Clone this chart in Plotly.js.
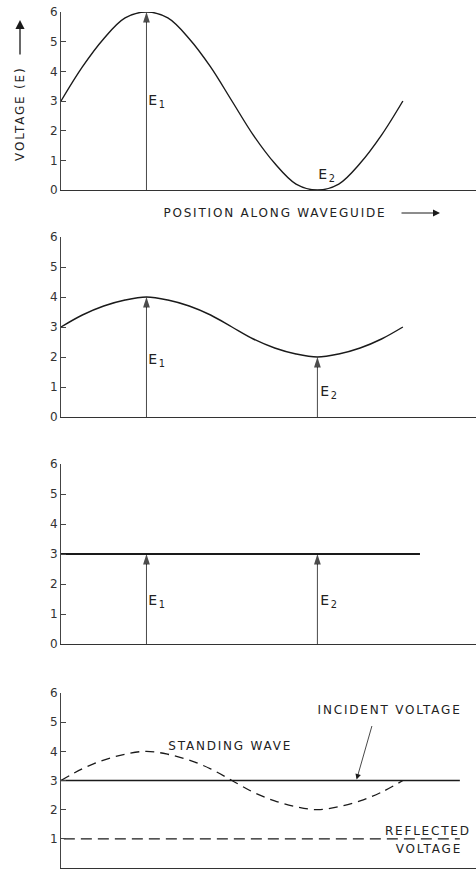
<!DOCTYPE html>
<html><head><meta charset="utf-8">
<script src="https://cdn.plot.ly/plotly-3.0.1.min.js"></script>
<style>html,body{margin:0;padding:0;background:#fff}
#chart .annotation-text{letter-spacing:1.8px}</style>
</head><body><div id="chart" style="width:476px;height:874px"></div>
<script>
// Position along waveguide (electrical degrees)
const pos = [0,22.5,45,67.5,90,112.5,135,157.5,180,202.5,225,247.5,270,292.5,315,337.5,360];
// Panel 1: total reflection standing wave
const wave1 = [3,4.15,5.1,5.8,6,5.8,5.1,4.15,3,1.85,0.9,0.2,0,0.2,0.9,1.85,3];
// Panel 2: partial reflection
const wave2 = [3,3.4,3.7,3.9,4,3.9,3.7,3.4,3,2.6,2.3,2.1,2,2.1,2.3,2.6,3];
// Panel 3: matched line (flat)
const flatX = [0,378];
const flat3 = [3,3];
// Panel 4: incident, standing, reflected
const incidentX = [0,420];
const incident = [3,3];
const standing = [3,3.4,3.7,3.9,4,3.9,3.7,3.4,3,2.6,2.3,2.1,2,2.1,2.3,2.6,3];
const reflectedX = [3,420];
const reflected = [1,1];
const yTicks = [0,1,2,3,4,5,6];
const yTickText = ['0','1','2','3','4','5','6'];
// Arrow targets E1 / E2 per panel
const e1X = 90, e2X = 270;
const e1Vals = [6,4,3];
const e2Vals = [0,2,3];

const FONT = 'DejaVu Sans';
const ink = '#1a1a1a';

const traces = [
  {x:pos, y:wave1, xaxis:'x', yaxis:'y', mode:'lines', line:{color:ink,width:1.4,shape:'spline'}},
  {x:pos, y:wave2, xaxis:'x2', yaxis:'y2', mode:'lines', line:{color:ink,width:1.4,shape:'spline'}},
  {x:flatX, y:flat3, xaxis:'x3', yaxis:'y3', mode:'lines', line:{color:ink,width:2}},
  {x:incidentX, y:incident, xaxis:'x4', yaxis:'y4', mode:'lines', line:{color:ink,width:1.5}},
  {x:pos, y:standing, xaxis:'x4', yaxis:'y4', mode:'lines', line:{color:ink,width:1.3,shape:'spline',dash:'9px,6px'}},
  {x:reflectedX, y:reflected, xaxis:'x4', yaxis:'y4', mode:'lines', line:{color:ink,width:1.3,dash:'11px,6px'}}
];
// E1 / E2 vertical arrows as traces (line + arrow marker at tip)
const axs = [['x','y'],['x2','y2'],['x3','y3']];
function arrowTrace(xr, yr, x, yTop){
  return {x:[x,x], y:[0,yTop], xaxis:xr, yaxis:yr, mode:'lines+markers', cliponaxis:false,
    line:{color:ink,width:0.8}, marker:{symbol:'arrow', size:[0,11], color:'#000', line:{width:0}}};
}
for (let k=0;k<3;k++){
  const [xr,yr] = axs[k];
  traces.push(arrowTrace(xr,yr,e1X,e1Vals[k]));
  if (e2Vals[k]>0) traces.push(arrowTrace(xr,yr,e2X,e2Vals[k]));
}

const H = 874;
const domains = [
  [1-190/H, 1-12/H],
  [1-417/H, 1-237/H],
  [1-644/H, 1-464/H],
  [1-868/H, 1-693/H]
];

const layout = {
  width:476, height:874,
  margin:{l:61,r:0,t:0,b:0},
  paper_bgcolor:'#fff', plot_bgcolor:'#fff',
  showlegend:false,
  font:{family:FONT,color:'#222',size:12},
  annotations:[]
};
for (let i=1;i<=4;i++){
  const s = i===1?'':String(i);
  layout['xaxis'+s] = {domain:[0,1], range:[0,437], anchor:'y'+s, showline:true, linecolor:'#333', linewidth:1,
    showticklabels:false, ticks:'', showgrid:false, zeroline:false, fixedrange:true};
  layout['yaxis'+s] = {domain:domains[i-1], range:[0,6], anchor:'x'+s, showline:true, linecolor:'#444', linewidth:1,
    ticks:'inside', ticklen:5, tickcolor:'#444', tickvals:yTicks, ticktext:yTickText,
    tickfont:{family:FONT,size:12,color:'#333'}, showgrid:false, zeroline:false, fixedrange:true};
}

function label(xr, yr, x, y, t){
  return {xref:xr, yref:yr, x:x, y:y, text:t, showarrow:false, xanchor:'left', yanchor:'middle',
    font:{family:FONT,size:14,color:'#222'}};
}
const A = layout.annotations;
const e1LabelY = [3.0,1.9,1.45];
const e2Pos = [[271,0.5],[273,0.85],[273,1.45]];
for (let k=0;k<3;k++){
  const [xr,yr] = axs[k];
  A.push(label(xr,yr,e1X+2,e1LabelY[k],'E<sub>1</sub>'));
  A.push(label(xr,yr,e2Pos[k][0],e2Pos[k][1],'E<sub>2</sub>'));
}
function note(xr,yr,x,y,t,extra){
  return Object.assign({xref:xr,yref:yr,x:x,y:y,text:t,showarrow:false,xanchor:'center',yanchor:'middle',
    font:{family:FONT,size:12,color:'#222'}}, extra||{});
}
// Y title with up arrow
A.push(note('paper','paper',-41/415,1-114/H,'VOLTAGE (E)',{textangle:-90}));
A.push({xref:'paper',yref:'paper',x:-41/415,y:1-20/H,ax:0,ay:36,text:'',showarrow:true,arrowhead:2,arrowsize:1.4,arrowwidth:1.3,arrowcolor:ink});
// Position label
A.push(note('paper','paper',(275-61)/415,1-213/H,'POSITION ALONG WAVEGUIDE'));
A.push({xref:'paper',yref:'paper',x:(440-61)/415,y:1-213/H,ax:-40,ay:0,text:'',showarrow:true,arrowhead:2,arrowsize:1.4,arrowwidth:1,arrowcolor:ink});
// Panel 4 labels
A.push(note('x4','y4',178,4.17,'STANDING WAVE'));
A.push(note('x4','y4',346,5.42,'INCIDENT VOLTAGE'));
A.push({xref:'x4',yref:'y4',x:311,y:3,ax:16,ay:-56,text:'',showarrow:true,arrowhead:2,arrowsize:1.4,arrowwidth:0.8,arrowcolor:ink,standoff:1});
A.push(note('x4','y4',386,1.27,'REFLECTED'));
A.push(note('x4','y4',388,0.64,'VOLTAGE'));

Plotly.newPlot('chart', traces, layout, {displayModeBar:false, staticPlot:true});
</script></body></html>
